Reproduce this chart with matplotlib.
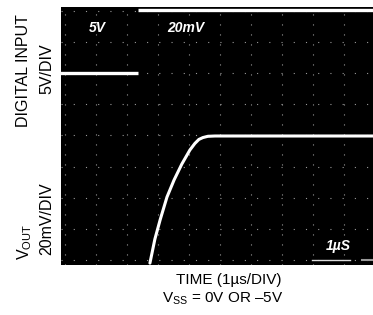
import numpy as np
import matplotlib.pyplot as plt

plt.rcParams['font.family'] = ['Liberation Sans', 'DejaVu Sans']
plt.rcParams['mathtext.fontset'] = 'custom'
plt.rcParams['mathtext.rm'] = 'Liberation Sans'
plt.rcParams['mathtext.it'] = 'Liberation Sans:italic'

# scope trace, in divisions (x: 1us/div, y: div from bottom graticule line)
# the edge of the digital input is too fast to show, so the trace breaks there
digital_t = [-0.2, 2.35, np.nan, 2.35, 10.0]
digital_v = [6.0, 6.0, np.nan, 8.02, 8.02]

vout_t = [2.74, 2.90, 3.07, 3.29, 3.52, 3.77, 4.03, 4.19, 4.32, 4.45, 4.61, 4.84, 10.0]
vout_v = [-0.1, 0.67, 1.29, 2.02, 2.57, 3.08, 3.53, 3.74, 3.87, 3.93, 3.97, 3.98, 3.98]

# on-screen scope readouts
scope_labels = ['5V', '20mV', '1µS']
scope_label_pos = [(0.78, 7.45), (3.3, 7.45), (8.4, 0.45)]
cursor_t = [7.97, 9.19]
cursor2_t = [9.58, 10.0]

fig = plt.figure(figsize=(3.73, 3.15), dpi=100)
ax = fig.add_axes([61 / 373, 50 / 315, 312 / 373, 258 / 315])
ax.set_facecolor('black')
ax.set_xlim(-0.13, 9.94)
ax.set_ylim(-0.16, 8.12)

# graticule
for gx in range(0, 10):
    ax.axvline(gx, color='#999999', lw=0.8, ls=(0, (1, 8)), zorder=1)
for gy in range(0, 9):
    ax.axhline(gy, color='#999999', lw=0.8, ls=(0, (1, 10)), zorder=1)

ax.plot(digital_t, digital_v, color='white', lw=2.4, solid_capstyle='butt', zorder=3)
ax.plot(vout_t, vout_v, color='white', lw=2.2, solid_capstyle='round',
        solid_joinstyle='round', zorder=3)
ax.plot(cursor_t, [0, 0], color='#dddddd', lw=1.0, zorder=3)
ax.plot(cursor2_t, [0, 0], color='#999999', lw=1.5, zorder=3)

for lab, (lx, ly) in zip(scope_labels, scope_label_pos):
    ax.text(lx, ly, lab, color='white', fontsize=10, fontweight='bold',
            fontstyle='italic', ha='left', va='center', zorder=4)

ax.set_xticks([])
ax.set_yticks([])
for s in ax.spines.values():
    s.set_visible(False)

# labels around the screen
fig.text(24 / 373, 1 - 71 / 315, 'DIGITAL INPUT', rotation=90, fontsize=11.5,
         ha='center', va='center')
fig.text(47 / 373, 1 - 69 / 315, '5V/DIV', rotation=90, fontsize=11.5,
         ha='center', va='center')
fig.text(25 / 373, 1 - 242 / 315, r'V$_{\mathrm{OUT}}$', rotation=90, fontsize=11.5,
         ha='center', va='center')
fig.text(47 / 373, 1 - 219 / 315, '20mV/DIV', rotation=90, fontsize=11.5,
         ha='center', va='center')
fig.text(229 / 373, 1 - 280 / 315, 'TIME (1µs/DIV)', fontsize=11,
         ha='center', va='center')
fig.text(223 / 373, 1 - 299 / 315, r'V$_{\mathrm{SS}}$ = 0V OR –5V', fontsize=11,
         ha='center', va='center')

fig.savefig('out.png', dpi=100)
